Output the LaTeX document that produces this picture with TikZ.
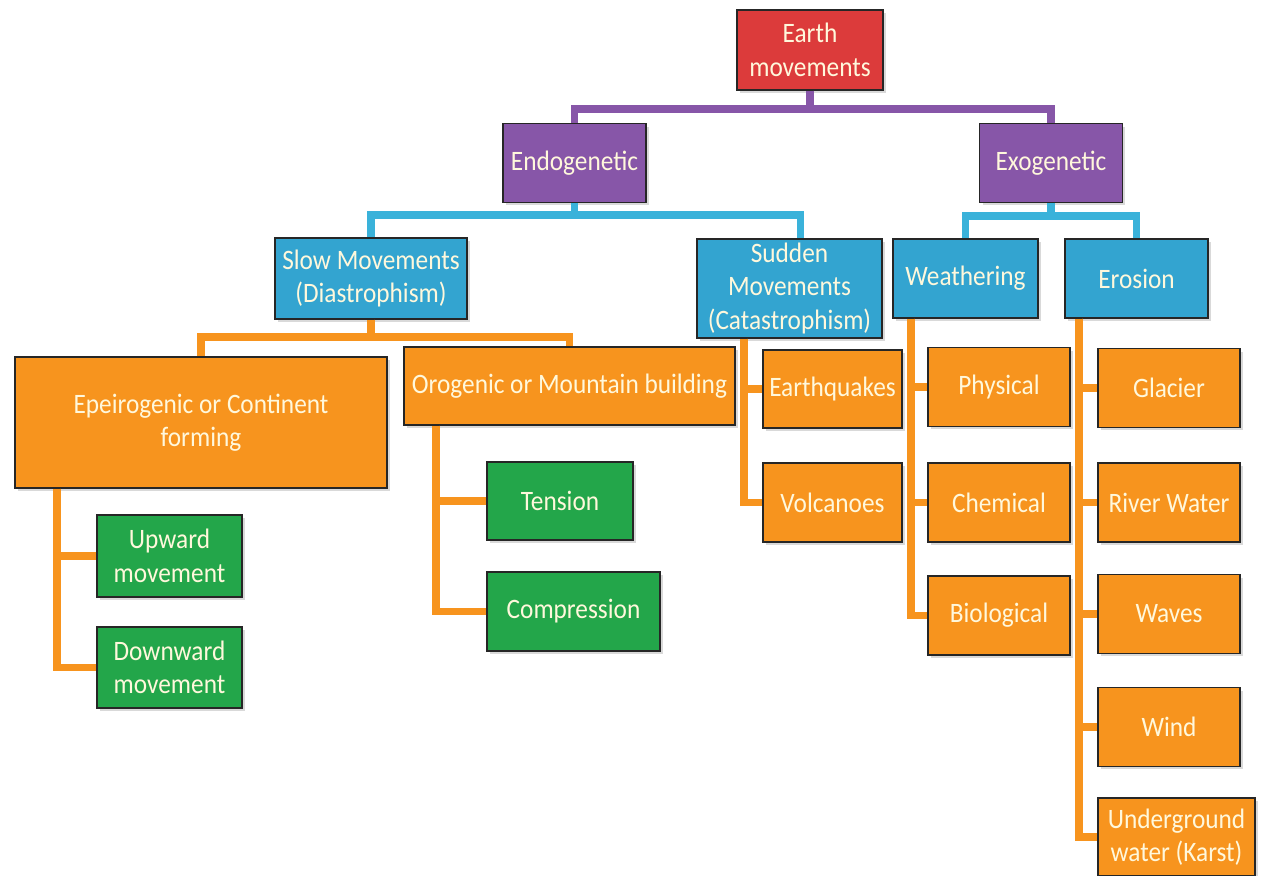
\documentclass[tikz,border=0pt]{standalone}
\usepackage{fontspec}
\setmainfont{Carlito}[FakeStretch=0.9]
\usetikzlibrary{calc,shadows}
\definecolor{earthred}{HTML}{DC3B3B}
\definecolor{genpurple}{HTML}{8756A8}
\definecolor{kindblue}{HTML}{33A4D0}
\definecolor{linkblue}{HTML}{3AB2DA}
\definecolor{procorange}{HTML}{F7941E}
\definecolor{forcegreen}{HTML}{23A64A}
\definecolor{textcream}{HTML}{FFF8DC}
\begin{document}
\begin{tikzpicture}[x=0.02cm,y=-0.02cm,
    box/.style={draw=black!85,line width=0.8pt,text=textcream,
      font=\fontsize{16}{19}\selectfont,align=center,inner sep=2pt,
      minimum width=2.86cm,minimum height=1.58cm,
      drop shadow={opacity=0.3,shadow xshift=0.6mm,shadow yshift=-0.6mm}},
    redbox/.style={box,fill=earthred},
    purplebox/.style={box,fill=genpurple},
    bluebox/.style={box,fill=kindblue},
    orangebox/.style={box,fill=procorange},
    greenbox/.style={box,fill=forcegreen},
    purplelink/.style={draw=genpurple,line width=4.5pt},
    bluelink/.style={draw=linkblue,line width=4.5pt},
    orangelink/.style={draw=procorange,line width=4.5pt}]
    \useasboundingbox (0,0) rectangle (1262,876);

    \node (earth) [redbox,minimum width=2.92cm,minimum height=1.6cm] at (810,50) {Earth\\movements};
    \node (endo) [purplebox] at (574.5,163) {Endogenetic};
    \node (exo) [purplebox] at (1051,163) {Exogenetic};

    \node (slow) [bluebox,minimum width=3.84cm,minimum height=1.62cm] at (371,278.5) {Slow Movements\\(Diastrophism)};
    \node (sudden) [bluebox,minimum width=3.7cm,minimum height=1.98cm] at (789.5,288.5) {Sudden\\Movements\\(Catastrophism)};
    \node (weather) [bluebox,minimum width=2.9cm] at (965.5,278.5) {Weathering};
    \node (erosion) [bluebox] at (1136.5,278.5) {Erosion};

    \node (epeiro) [orangebox,minimum width=7.44cm,minimum height=2.62cm] at (201,422.5) {Epeirogenic or Continent\\forming};
    \node (orogen) [orangebox,minimum width=6.62cm,minimum height=1.56cm] at (569.5,386) {Orogenic or Mountain building};
    \node (quake) [orangebox,minimum width=2.78cm,minimum height=1.56cm] at (832.5,389) {Earthquakes};
    \node (volcano) [orangebox,minimum width=2.78cm] at (832.5,502.5) {Volcanoes};
    \node (physical) [orangebox,minimum width=2.84cm] at (999,387) {Physical};
    \node (chemical) [orangebox,minimum width=2.84cm] at (999,502.5) {Chemical};
    \node (biological) [orangebox,minimum width=2.84cm] at (999,615.5) {Biological};
    \node (glacier) [orangebox,minimum width=2.84cm] at (1169,388) {Glacier};
    \node (river) [orangebox,minimum width=2.84cm] at (1169,502.5) {River Water};
    \node (waves) [orangebox,minimum width=2.84cm] at (1169,614) {Waves};
    \node (wind) [orangebox,minimum width=2.84cm] at (1169,727) {Wind};
    \node (karst) [orangebox,minimum width=3.14cm,minimum height=1.56cm] at (1176.5,837) {Underground\\water (Karst)};

    \node (upward) [greenbox,minimum width=2.9cm,minimum height=1.64cm] at (169.5,556) {Upward\\movement};
    \node (downward) [greenbox,minimum width=2.9cm,minimum height=1.62cm] at (169.5,667.5) {Downward\\movement};
    \node (tension) [greenbox,minimum width=2.92cm,minimum height=1.56cm] at (560,501) {Tension};
    \node (compress) [greenbox,minimum width=3.46cm] at (573.5,611.5) {Compression};

    \draw[purplelink] (earth.south) -- ++(0,18) -| (endo.north);
    \draw[purplelink] (earth.south) -- ++(0,18) -| (exo.north);

    \draw[bluelink] (endo.south) -- ++(0,12) -| (slow.north);
    \draw[bluelink] (endo.south) -- ++(0,12) -| ($(sudden.north)+(11,0)$);
    \draw[bluelink] (exo.south) -- ++(0,13) -| (weather.north);
    \draw[bluelink] (exo.south) -- ++(0,13) -| (erosion.north);

    \draw[orangelink] (slow.south) -- ++(0,17) -| (epeiro.north);
    \draw[orangelink] (slow.south) -- ++(0,17) -| (orogen.north);

    \draw[orangelink] ($(sudden.south west)+(48,0)$) |- (quake.west);
    \draw[orangelink] ($(sudden.south west)+(48,0)$) |- (volcano.west);
    \draw[orangelink] ($(weather.south west)+(19,0)$) |- (physical.west);
    \draw[orangelink] ($(weather.south west)+(19,0)$) |- (chemical.west);
    \draw[orangelink] ($(weather.south west)+(19,0)$) |- (biological.west);
    \draw[orangelink] ($(erosion.south west)+(15,0)$) |- (glacier.west);
    \draw[orangelink] ($(erosion.south west)+(15,0)$) |- (river.west);
    \draw[orangelink] ($(erosion.south west)+(15,0)$) |- (waves.west);
    \draw[orangelink] ($(erosion.south west)+(15,0)$) |- (wind.west);
    \draw[orangelink] ($(erosion.south west)+(15,0)$) |- (karst.west);

    \draw[orangelink] ($(epeiro.south west)+(43,0)$) |- (upward.west);
    \draw[orangelink] ($(epeiro.south west)+(43,0)$) |- (downward.west);
    \draw[orangelink] ($(orogen.south west)+(33,0)$) |- (tension.west);
    \draw[orangelink] ($(orogen.south west)+(33,0)$) |- (compress.west);
\end{tikzpicture}
\end{document}
